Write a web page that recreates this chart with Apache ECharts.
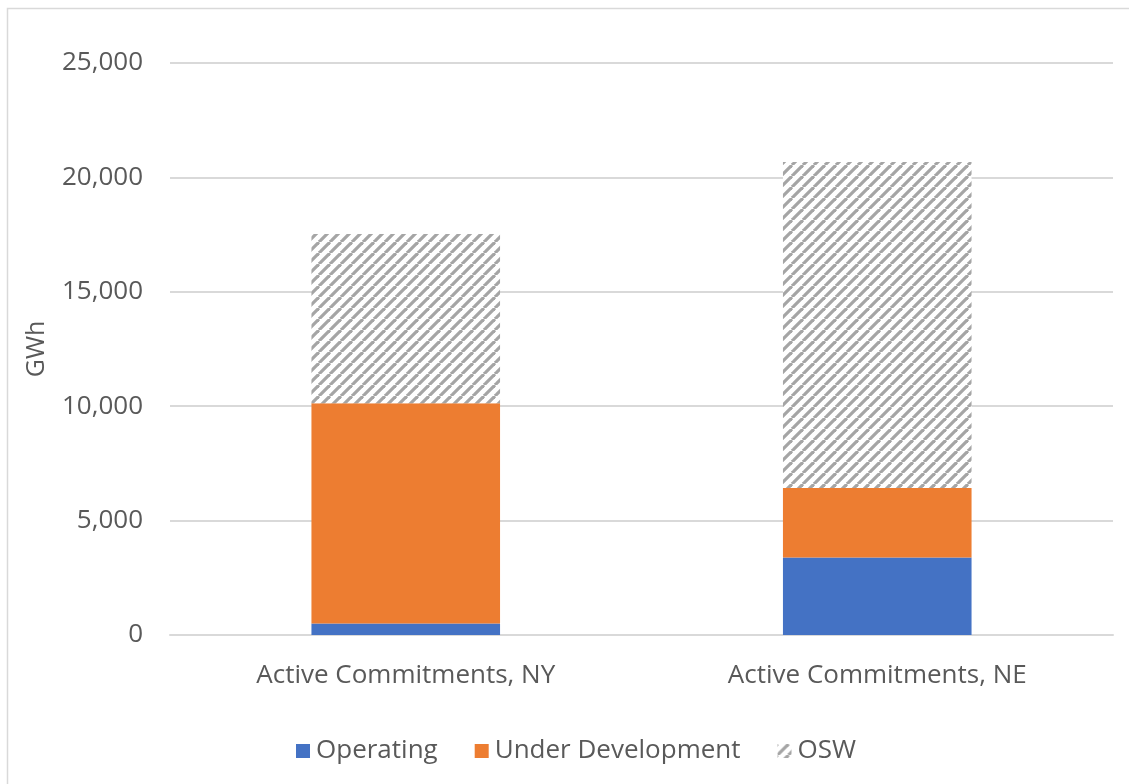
<!DOCTYPE html>
<html>
<head>
<meta charset="utf-8">
<script src="https://cdn.jsdelivr.net/npm/echarts@6/dist/echarts.min.js"></script>
<style>
  html, body { margin: 0; padding: 0; background: #fff; }
  #chart { width: 1129px; height: 784px; }
</style>
</head>
<body>
<div id="chart"></div>
<script>
var categories = ['Active Commitments, NY', 'Active Commitments, NE'];
var operating = [500, 3390];
var underDevelopment = [9630, 3040];
var osw = [7395, 14240];
var yTicks = [0, 5000, 10000, 15000, 20000, 25000];

// diagonal hatch for the OSW series
function makeHatch() {
    var s = 11;
    var c = document.createElement('canvas');
    c.width = s;
    c.height = s;
    var ctx = c.getContext('2d');
    ctx.fillStyle = '#fff';
    ctx.fillRect(0, 0, s, s);
    ctx.strokeStyle = '#a5a5a5';
    ctx.lineWidth = 3.2;
    [-s, 0, s].forEach(function (k) {
        ctx.beginPath();
        ctx.moveTo(k, s);
        ctx.lineTo(k + s, 0);
        ctx.stroke();
    });
    return c;
}
var hatch = { image: makeHatch(), repeat: 'repeat' };

var textColor = '#595959';
var fontFamily = '"Open Sans", sans-serif';

var chart = echarts.init(document.getElementById('chart'));
chart.setOption({
    animation: false,
    textStyle: { fontFamily: fontFamily, color: textColor },
    graphic: [{
        type: 'rect',
        shape: { x: 7.5, y: 8.5, width: 1400, height: 1000 },
        style: { fill: 'none', stroke: '#d9d9d9', lineWidth: 1.5 },
        silent: true
    }],
    grid: { left: 170, right: 16, top: 63, bottom: 149 },
    legend: {
        top: 733,
        left: 291,
        itemWidth: 14,
        itemHeight: 14,
        itemGap: 37,
        icon: 'rect',
        textStyle: { fontSize: 26, color: textColor, fontFamily: fontFamily, padding: [0, 0, 0, 1] },
        data: ['Operating', 'Under Development', 'OSW']
    },
    xAxis: {
        type: 'category',
        data: categories,
        axisLine: { show: true, lineStyle: { color: '#d9d9d9', width: 2 } },
        axisTick: { show: false },
        axisLabel: { fontSize: 26, color: textColor, margin: 28, fontFamily: fontFamily }
    },
    yAxis: {
        type: 'value',
        min: yTicks[0],
        max: yTicks[yTicks.length - 1],
        interval: 5000,
        name: 'GWh',
        nameLocation: 'middle',
        nameGap: 121,
        nameTextStyle: { fontSize: 25, color: textColor, fontFamily: fontFamily },
        axisLine: { show: false },
        axisTick: { show: false },
        splitLine: { lineStyle: { color: '#d9d9d9', width: 2 } },
        axisLabel: {
            fontSize: 26,
            color: textColor,
            margin: 27,
            fontFamily: fontFamily,
            formatter: function (v) { return v.toLocaleString('en-US'); }
        }
    },
    series: [
        {
            name: 'Operating',
            type: 'bar',
            stack: 'total',
            barWidth: '40%',
            itemStyle: { color: '#4472c4' },
            data: operating
        },
        {
            name: 'Under Development',
            type: 'bar',
            stack: 'total',
            barWidth: '40%',
            itemStyle: { color: '#ed7d31' },
            data: underDevelopment
        },
        {
            name: 'OSW',
            type: 'bar',
            stack: 'total',
            barWidth: '40%',
            itemStyle: { color: hatch },
            data: osw
        }
    ]
});
</script>
</body>
</html>
